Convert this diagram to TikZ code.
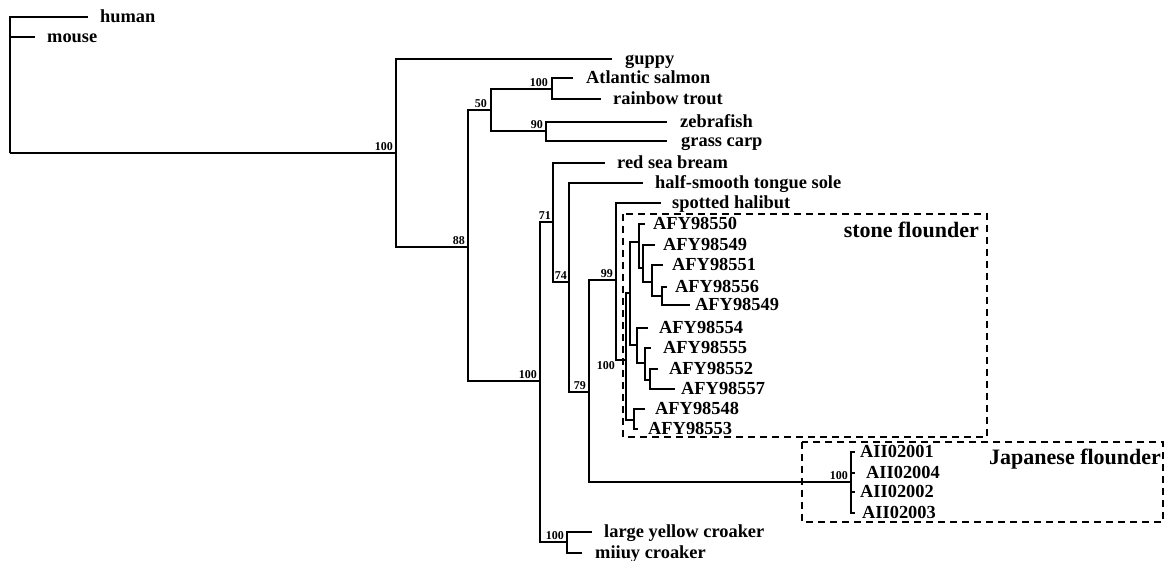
\documentclass[tikz,border=0pt]{standalone}
\usepackage{fontspec}
\setmainfont{Liberation Serif}
\usetikzlibrary{positioning}

\begin{document}
\begin{tikzpicture}[x=1pt, y=-1pt,
        branch/.style={line width=2pt},
        leaf/.style={inner sep=0pt, text height=13.5pt, text depth=2.5pt, font=\fontsize{18.4}{20}\selectfont\bfseries},
        boot/.style={inner sep=0pt, font=\fontsize{12}{12}\selectfont\bfseries},
        clade/.style={dash pattern=on 7pt off 5pt, line width=1.8pt},
        group/.style={inner sep=0pt, font=\fontsize{22}{24}\selectfont\bfseries}]
    \useasboundingbox (0,0) rectangle (1164,560);

    \coordinate (root) at (10,153);
    \coordinate (nA) at (396,153);
    \coordinate (nB) at (468,247);
    \coordinate (nC) at (491,110);
    \coordinate (nE) at (552,89);
    \coordinate (nF) at (546,131);
    \coordinate (nD) at (540,381);
    \coordinate (nG) at (553,222);
    \coordinate (nH) at (569,282);
    \coordinate (nI) at (589,392);
    \coordinate (nJ) at (616,280);
    \coordinate (nK) at (626,360);
    \coordinate (nL) at (630,293);
    \coordinate (nN) at (639,242);
    \coordinate (nO) at (643,268);
    \coordinate (nP) at (652,282);
    \coordinate (nQ) at (662,296);
    \coordinate (nR) at (637,345);
    \coordinate (nS) at (645,363);
    \coordinate (nT) at (650,380);
    \coordinate (nM) at (634,420);
    \coordinate (nJap) at (851,482);
    \coordinate (nCro) at (567,542);

    \coordinate (tHuman) at (88,17);
    \coordinate (tMouse) at (35,37);
    \coordinate (tGuppy) at (612,59);
    \coordinate (tSalmon) at (573,78);
    \coordinate (tTrout) at (601,99);
    \coordinate (tZebra) at (667,122);
    \coordinate (tCarp) at (667,141);
    \coordinate (tBream) at (605,163);
    \coordinate (tSole) at (643,183);
    \coordinate (tHalibut) at (661,203);
    \coordinate (t50) at (645,224);
    \coordinate (t49a) at (655,245);
    \coordinate (t51) at (663,265);
    \coordinate (t56) at (667,287);
    \coordinate (t49b) at (690,305);
    \coordinate (t54) at (648,328);
    \coordinate (t55) at (651,348);
    \coordinate (t52) at (658,369);
    \coordinate (t57) at (675,389);
    \coordinate (t48) at (645,409);
    \coordinate (t53) at (638,429);
    \coordinate (tJ1) at (855,452);
    \coordinate (tJ4) at (855,473);
    \coordinate (tJ2) at (855,492);
    \coordinate (tJ3) at (855,513);
    \coordinate (tLarge) at (592,532);
    \coordinate (tMiiuy) at (582,553);

    \foreach \p/\c in {root/tHuman, root/tMouse, root/nA, nA/tGuppy, nA/nB, nB/nC, nB/nD,
            nC/nE, nC/nF, nE/tSalmon, nE/tTrout, nF/tZebra, nF/tCarp,
            nD/nG, nD/nCro, nCro/tLarge, nCro/tMiiuy, nG/tBream, nG/nH, nH/tSole, nH/nI,
            nI/nJ, nI/nJap, nJ/tHalibut, nJ/nK, nK/nL, nK/nM, nL/nN, nL/nR,
            nN/t50, nN/nO, nO/t49a, nO/nP, nP/t51, nP/nQ, nQ/t56, nQ/t49b,
            nR/t54, nR/nS, nS/t55, nS/nT, nT/t52, nT/t57, nM/t48, nM/t53,
            nJap/tJ1, nJap/tJ4, nJap/tJ2, nJap/tJ3}
        \draw[branch] (\p) |- (\c);

    \node[leaf, right=12pt of tHuman] (human) {human};
    \node[leaf, right=12pt of tMouse] (mouse) {mouse};
    \node[leaf, right=13pt of tGuppy] (guppy) {guppy};
    \node[leaf, right=13pt of tSalmon] (salmon) {Atlantic salmon};
    \node[leaf, right=12pt of tTrout] (trout) {rainbow trout};
    \node[leaf, right=13pt of tZebra] (zebra) {zebrafish};
    \node[leaf, right=14pt of tCarp] (carp) {grass carp};
    \node[leaf, right=12pt of tBream] (bream) {red sea bream};
    \node[leaf, right=12pt of tSole] (sole) {half-smooth tongue sole};
    \node[leaf, right=11pt of tHalibut] (halibut) {spotted halibut};
    \node[leaf, right=8pt of t50] (a50) {AFY98550};
    \node[leaf, right=8pt of t49a] (a49a) {AFY98549};
    \node[leaf, right=9pt of t51] (a51) {AFY98551};
    \node[leaf, right=8pt of t56] (a56) {AFY98556};
    \node[leaf, right=5pt of t49b] (a49b) {AFY98549};
    \node[leaf, right=11pt of t54] (a54) {AFY98554};
    \node[leaf, right=12pt of t55] (a55) {AFY98555};
    \node[leaf, right=11pt of t52] (a52) {AFY98552};
    \node[leaf, right=6pt of t57] (a57) {AFY98557};
    \node[leaf, right=10pt of t48] (a48) {AFY98548};
    \node[leaf, right=10pt of t53] (a53) {AFY98553};
    \node[leaf, right=5pt of tJ1] (j1) {AII02001};
    \node[leaf, right=11pt of tJ4] (j4) {AII02004};
    \node[leaf, right=5pt of tJ2] (j2) {AII02002};
    \node[leaf, right=7pt of tJ3] (j3) {AII02003};
    \node[leaf, right=12pt of tLarge] (large) {large yellow croaker};
    \node[leaf, right=13pt of tMiiuy] (miiuy) {miiuy croaker};

    \node[boot, above left=2pt and 3pt of nA] (bA) {100};
    \node[boot, above left=2pt and 3pt of nB] (bB) {88};
    \node[boot, above left=2pt and 4pt of nC] (bC) {50};
    \node[boot, above left=2pt and 4pt of nE] (bE) {100};
    \node[boot, above left=2pt and 3pt of nF] (bF) {90};
    \node[boot, above left=2pt and 3pt of nD] (bD) {100};
    \node[boot, above left=2pt and 2pt of nG] (bG) {71};
    \node[boot, above left=2pt and 2pt of nH] (bH) {74};
    \node[boot, above left=2pt and 3pt of nI] (bI) {79};
    \node[boot, above left=2pt and 3pt of nJ] (bJ) {99};
    \coordinate (cK) at (nJ |- nK);
    \node[boot, below left=1pt and 1pt of cK] (bK) {100};
    \node[boot, above left=2pt and 3pt of nJap] (bJap) {100};
    \node[boot, above left=2pt and 3pt of nCro] (bCro) {100};

    \draw[clade] (623,214) rectangle (987,437);
    \draw[clade] (802,442) rectangle (1163,522);
    \node[group, anchor=base east] (stone) at (979,237) {stone flounder};
    \node[group, anchor=base west] (japanese) at (989,464) {Japanese flounder};
\end{tikzpicture}
\end{document}
